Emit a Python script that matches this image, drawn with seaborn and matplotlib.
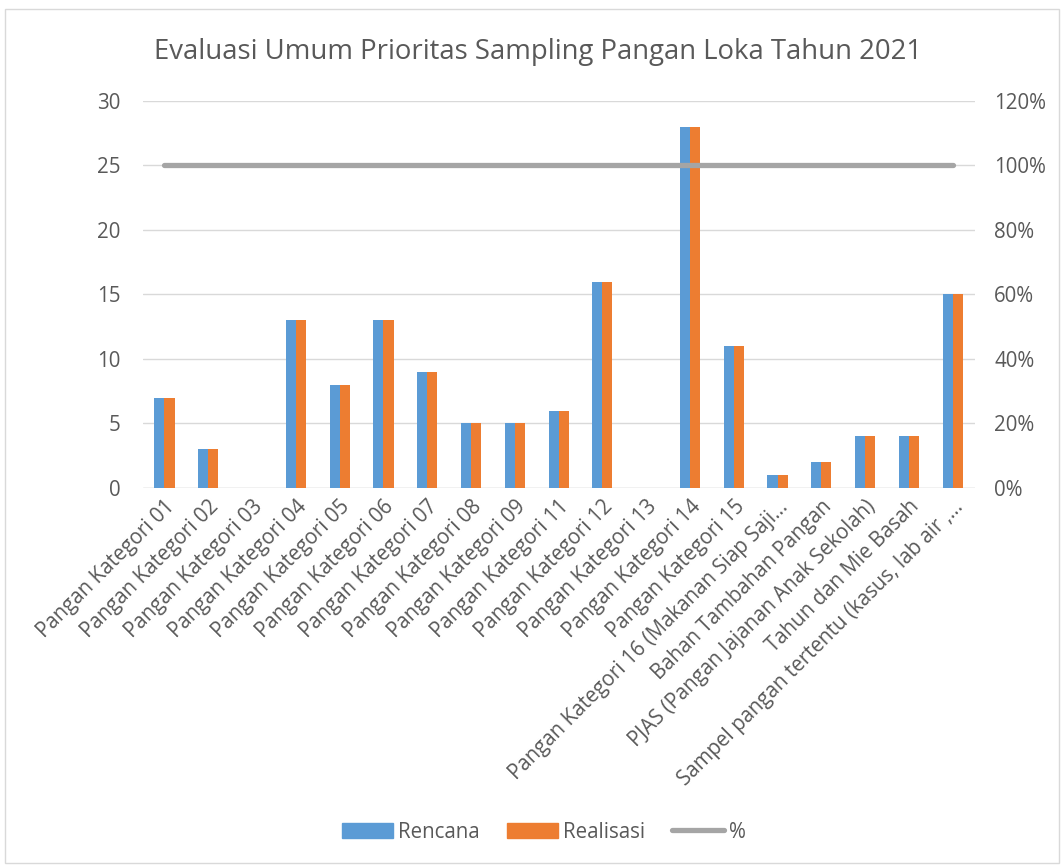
import numpy as np
import pandas as pd
import matplotlib
matplotlib.use("Agg")
import matplotlib.pyplot as plt
import seaborn as sns
from matplotlib.patches import Rectangle
from matplotlib.lines import Line2D
from matplotlib.ticker import PercentFormatter

categories = [
    "Pangan Kategori 01", "Pangan Kategori 02", "Pangan Kategori 03",
    "Pangan Kategori 04", "Pangan Kategori 05", "Pangan Kategori 06",
    "Pangan Kategori 07", "Pangan Kategori 08", "Pangan Kategori 09",
    "Pangan Kategori 11", "Pangan Kategori 12", "Pangan Kategori 13",
    "Pangan Kategori 14", "Pangan Kategori 15",
    "Pangan Kategori 16 (Makanan Siap Saji…",
    "Bahan Tambahan Pangan",
    "PJAS (Pangan Jajanan Anak Sekolah)",
    "Tahun dan Mie Basah",
    "Sampel pangan tertentu (kasus, lab air ,…",
]
rencana = [7, 3, 0, 13, 8, 13, 9, 5, 5, 6, 16, 0, 28, 11, 1, 2, 4, 4, 15]
realisasi = [7, 3, 0, 13, 8, 13, 9, 5, 5, 6, 16, 0, 28, 11, 1, 2, 4, 4, 15]
persen = [100] * 19

TXT = "#595959"
BLUE = "#5B9BD5"
ORANGE = "#ED7D31"
GREY = "#A5A5A5"

sns.set_theme(style="white")
plt.rcParams["font.family"] = ["Open Sans", "DejaVu Sans"]

df = pd.DataFrame({
    "Kategori": categories * 2,
    "Jumlah": rencana + realisasi,
    "Seri": ["Rencana"] * len(categories) + ["Realisasi"] * len(categories),
})

fig = plt.figure(figsize=(10.64, 8.66), dpi=100)
ax = fig.add_axes([0.134, 0.4365, 0.782, 0.447])

sns.barplot(data=df, x="Kategori", y="Jumlah", hue="Seri",
            palette=[BLUE, ORANGE], width=0.46, ax=ax, legend=False,
            saturation=1, linewidth=0)

ax.set_ylim(0, 30)
ax.set_yticks(range(0, 31, 5))
ax.set_xlim(-0.5, len(categories) - 0.5)
ax.grid(axis="y", color="#D9D9D9", linewidth=1)
ax.set_axisbelow(True)
for s in ax.spines.values():
    s.set_visible(False)
ax.axhline(0, color="#D9D9D9", linewidth=1, zorder=0.5)
ax.set_xlabel("")
ax.set_ylabel("")
ax.tick_params(axis="both", length=0, colors=TXT, labelsize=14.8)
ax.tick_params(axis="y", pad=16)
ax.tick_params(axis="x", pad=6)
ax.set_xticks(range(len(categories)))
ax.set_xticklabels(categories, rotation=45, ha="right", rotation_mode="anchor")

ax2 = ax.twinx()
ax2.plot(np.arange(len(categories)), persen, color=GREY, linewidth=3.8,
         solid_capstyle="round")
ax2.set_ylim(0, 120)
ax2.set_yticks(range(0, 121, 20))
ax2.yaxis.set_major_formatter(PercentFormatter(decimals=0))
for s in ax2.spines.values():
    s.set_visible(False)
ax2.tick_params(axis="y", length=0, colors=TXT, labelsize=14.8, pad=14)
ax2.grid(False)

fig.suptitle("Evaluasi Umum Prioritas Sampling Pangan Loka Tahun 2021",
             x=0.506, y=0.956, fontsize=19.8, color=TXT)

handles = [
    Rectangle((0, 0), 1, 1, color=BLUE),
    Rectangle((0, 0), 1, 1, color=ORANGE),
    Line2D([0], [0], color=GREY, linewidth=3.8, solid_capstyle="round"),
]
leg = fig.legend(handles, ["Rencana", "Realisasi", "%"], loc="center",
                 bbox_to_anchor=(0.511, 0.039), ncol=3, frameon=False,
                 fontsize=14.8, handlelength=2.5, handleheight=0.8,
                 columnspacing=1.3, handletextpad=0.25)
for t in leg.get_texts():
    t.set_color(TXT)

fig.patches.append(Rectangle((0.005, 0.003), 0.99, 0.987, transform=fig.transFigure,
                             fill=False, edgecolor="#D9D9D9", linewidth=1))

fig.savefig("out.png", dpi=100)
